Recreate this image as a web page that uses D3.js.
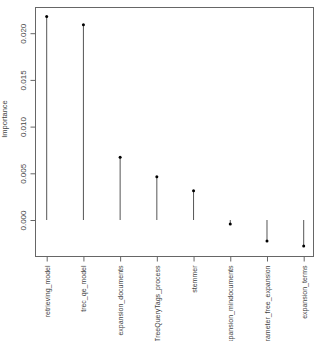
<!DOCTYPE html>
<html><head><meta charset="utf-8">
<script src="https://cdn.jsdelivr.net/npm/d3@7"></script>
<style>body{margin:0;background:#fff}svg{display:block}</style>
</head><body>
<svg id="c" width="315" height="341"></svg>
<script>
const categories = ["retrieving_model","trec_qe_model","expansion_documents","TreeQueryTags_process","stemmer","expansion_mindocuments","parameter_free_expansion","expansion_terms"];
const importance = [0.02178, 0.0209, 0.00672, 0.00464, 0.00314, -0.00043, -0.00225, -0.00279];
const yTicks = [0.000, 0.005, 0.010, 0.015, 0.020];
const yLabel = "Importance";

const svg = d3.select("#c");
const L = 35.5, R = 313.5, T = 7.5, B = 256.5;
const x = d3.scalePoint().domain(categories).range([46.7, 303.7]);
const y = d3.scaleLinear().domain([0, 0.005]).range([220, 173.3]);

svg.append("rect").attr("x", L).attr("y", T).attr("width", R - L).attr("height", B - T)
  .attr("fill", "none").attr("stroke", "#666").attr("stroke-width", 1);

const ya = svg.append("g").attr("transform", `translate(${L},0)`)
  .call(d3.axisLeft(y).tickValues(yTicks).tickFormat(d3.format(".3f")).tickSize(5).tickSizeOuter(0));
ya.select(".domain").attr("stroke", "#666").attr("d", `M0,${y(0)}V${y(0.02)}`);
ya.selectAll(".tick line").attr("stroke", "#666");
ya.selectAll(".tick text").attr("font-family", "Liberation Sans, Arial, sans-serif").attr("font-size", 8).attr("fill", "#444")
  .attr("x", 0).attr("dy", 0)
  .attr("transform", d => `translate(-9.5,0) rotate(-90)`).attr("text-anchor", "middle");

const xa = svg.append("g").attr("transform", `translate(0,${B})`)
  .call(d3.axisBottom(x).tickSize(5).tickSizeOuter(0));
xa.select(".domain").remove();
xa.selectAll(".tick line").attr("stroke", "#666");
xa.selectAll(".tick text").attr("font-family", "Liberation Sans, Arial, sans-serif").attr("font-size", 7).attr("fill", "#444")
  .attr("y", 0).attr("dy", 0)
  .attr("transform", "translate(2.5,9) rotate(-90)").attr("text-anchor", "end");

svg.append("text").attr("transform", `translate(6.5,119) rotate(-90)`)
  .attr("text-anchor", "middle").attr("font-family", "Liberation Sans, Arial, sans-serif")
  .attr("font-size", 7.5).attr("fill", "#444").text(yLabel);

const g = svg.append("g");
g.selectAll("line.stem").data(categories).join("line").attr("class", "stem")
  .attr("x1", d => x(d)).attr("x2", d => x(d))
  .attr("y1", y(0)).attr("y2", (d, i) => y(importance[i]))
  .attr("stroke", "#555").attr("stroke-width", 1);
g.selectAll("circle").data(categories).join("circle")
  .attr("cx", d => x(d)).attr("cy", (d, i) => y(importance[i]))
  .attr("r", 1.5).attr("fill", "#000");
</script>
</body></html>
